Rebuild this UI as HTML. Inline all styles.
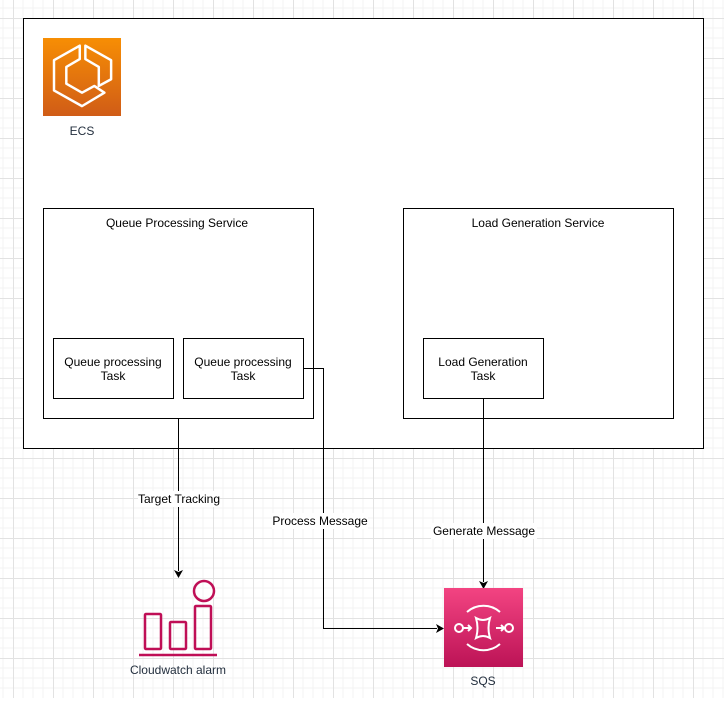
<!DOCTYPE html>
<html><head><style>
body{margin:0;width:724px;height:698px;overflow:hidden;background:#fff;font-family:"Liberation Sans",sans-serif;}
</style></head><body>
<svg width="724" height="698" xmlns="http://www.w3.org/2000/svg" font-family="Liberation Sans, sans-serif" font-size="12">
<defs>
<pattern id="g" x="13" y="18" width="40" height="40" patternUnits="userSpaceOnUse">
<path d="M10 0V40M20 0V40M30 0V40M0 10H40M0 20H40M0 30H40" stroke="#f3f3f3" stroke-width="1" fill="none"/>
<path d="M0.5 0V40M0 0.5H40" stroke="#e2e2e2" stroke-width="1" fill="none"/>
</pattern>
<linearGradient id="o" x1="0" y1="0" x2="0" y2="1"><stop offset="0" stop-color="#f78e04"/><stop offset="1" stop-color="#d05c17"/></linearGradient>
<linearGradient id="p" x1="0" y1="0" x2="0" y2="1"><stop offset="0" stop-color="#f34482"/><stop offset="1" stop-color="#bc1356"/></linearGradient>
</defs>
<rect width="724" height="698" fill="url(#g)"/>
<rect x="23.5" y="18.5" width="680" height="430" fill="#fff" stroke="#000"/>
<rect x="43" y="38" width="78" height="78" fill="url(#o)"/>
<g fill="none" stroke="#fff" stroke-width="2.2" stroke-linejoin="round" transform="translate(82 77) scale(1.12) translate(-82 -76)">
<path d="M80 48 L57 61 L57 88 L82 102 L102 90 L93 84 L82 90 L68 82 L68 67 L80 60 Z"/>
<path d="M85 48 L85 60 L97 67 L97 84 L108 78 L108 61 Z"/>
</g>
<text x="82" y="135" text-anchor="middle" fill="#232f3e">ECS</text>
<rect x="43.5" y="208.5" width="270" height="210" fill="#fff" stroke="#000"/>
<text x="177" y="227" text-anchor="middle">Queue Processing Service</text>
<rect x="403.5" y="208.5" width="270" height="210" fill="#fff" stroke="#000"/>
<text x="538" y="227" text-anchor="middle">Load Generation Service</text>
<rect x="53.5" y="338.5" width="120" height="60" fill="#fff" stroke="#000"/>
<text x="113" y="366" text-anchor="middle">Queue processing</text><text x="113" y="380" text-anchor="middle">Task</text>
<rect x="183.5" y="338.5" width="120" height="60" fill="#fff" stroke="#000"/>
<text x="243" y="366" text-anchor="middle">Queue processing</text><text x="243" y="380" text-anchor="middle">Task</text>
<rect x="423.5" y="338.5" width="120" height="60" fill="#fff" stroke="#000"/>
<text x="483" y="366" text-anchor="middle">Load Generation</text><text x="483" y="380" text-anchor="middle">Task</text>
<g stroke="#000" fill="none">
<path d="M178.5 418V571"/><path d="M303 368.5H323.5V628.5H437"/><path d="M483.5 398V582"/>
</g>
<g fill="#000">
<path d="M174 570L178.5 578L183 570L178.5 572Z"/>
<path d="M436 624L444 628.5L436 633L438 628.5Z"/>
<path d="M479 581L483.5 589L488 581L483.5 583Z"/>
</g>
<rect x="138" y="491" width="82" height="16" fill="#fff"/>
<text x="179" y="503" text-anchor="middle">Target Tracking</text>
<rect x="272" y="513" width="96" height="16" fill="#fff"/>
<text x="320" y="525" text-anchor="middle">Process Message</text>
<rect x="431" y="523" width="106" height="16" fill="#fff"/>
<text x="484" y="535" text-anchor="middle">Generate Message</text>
<g fill="none" stroke="#bf0f56" stroke-width="2.5">
<circle cx="204" cy="591" r="10"/>
<rect x="145" y="614" width="16" height="35" rx="1"/>
<rect x="170" y="622" width="16" height="27" rx="1"/>
<rect x="195" y="606" width="16" height="43" rx="1"/>
<path d="M139 655H217"/>
</g>
<text x="178" y="674" text-anchor="middle" fill="#232f3e">Cloudwatch alarm</text>
<rect x="444" y="588" width="79" height="79" fill="url(#p)"/>
<g fill="none" stroke="#fff" stroke-width="2">
<path d="M467 612A25 25 0 0 1 500 612M467 644A25 25 0 0 0 500 644"/>
<circle cx="459" cy="628" r="4"/><circle cx="509" cy="628" r="4"/>
<path d="M463 628H471M468 625L471 628L468 631M496 628H504M501 625L504 628L501 631"/>
<path d="M476 618Q483 622 490 618Q487 628 490 638Q483 634 476 638Q479 628 476 618Z"/>
</g>
<text x="483" y="685" text-anchor="middle" fill="#232f3e">SQS</text>
</svg>
</body></html>
